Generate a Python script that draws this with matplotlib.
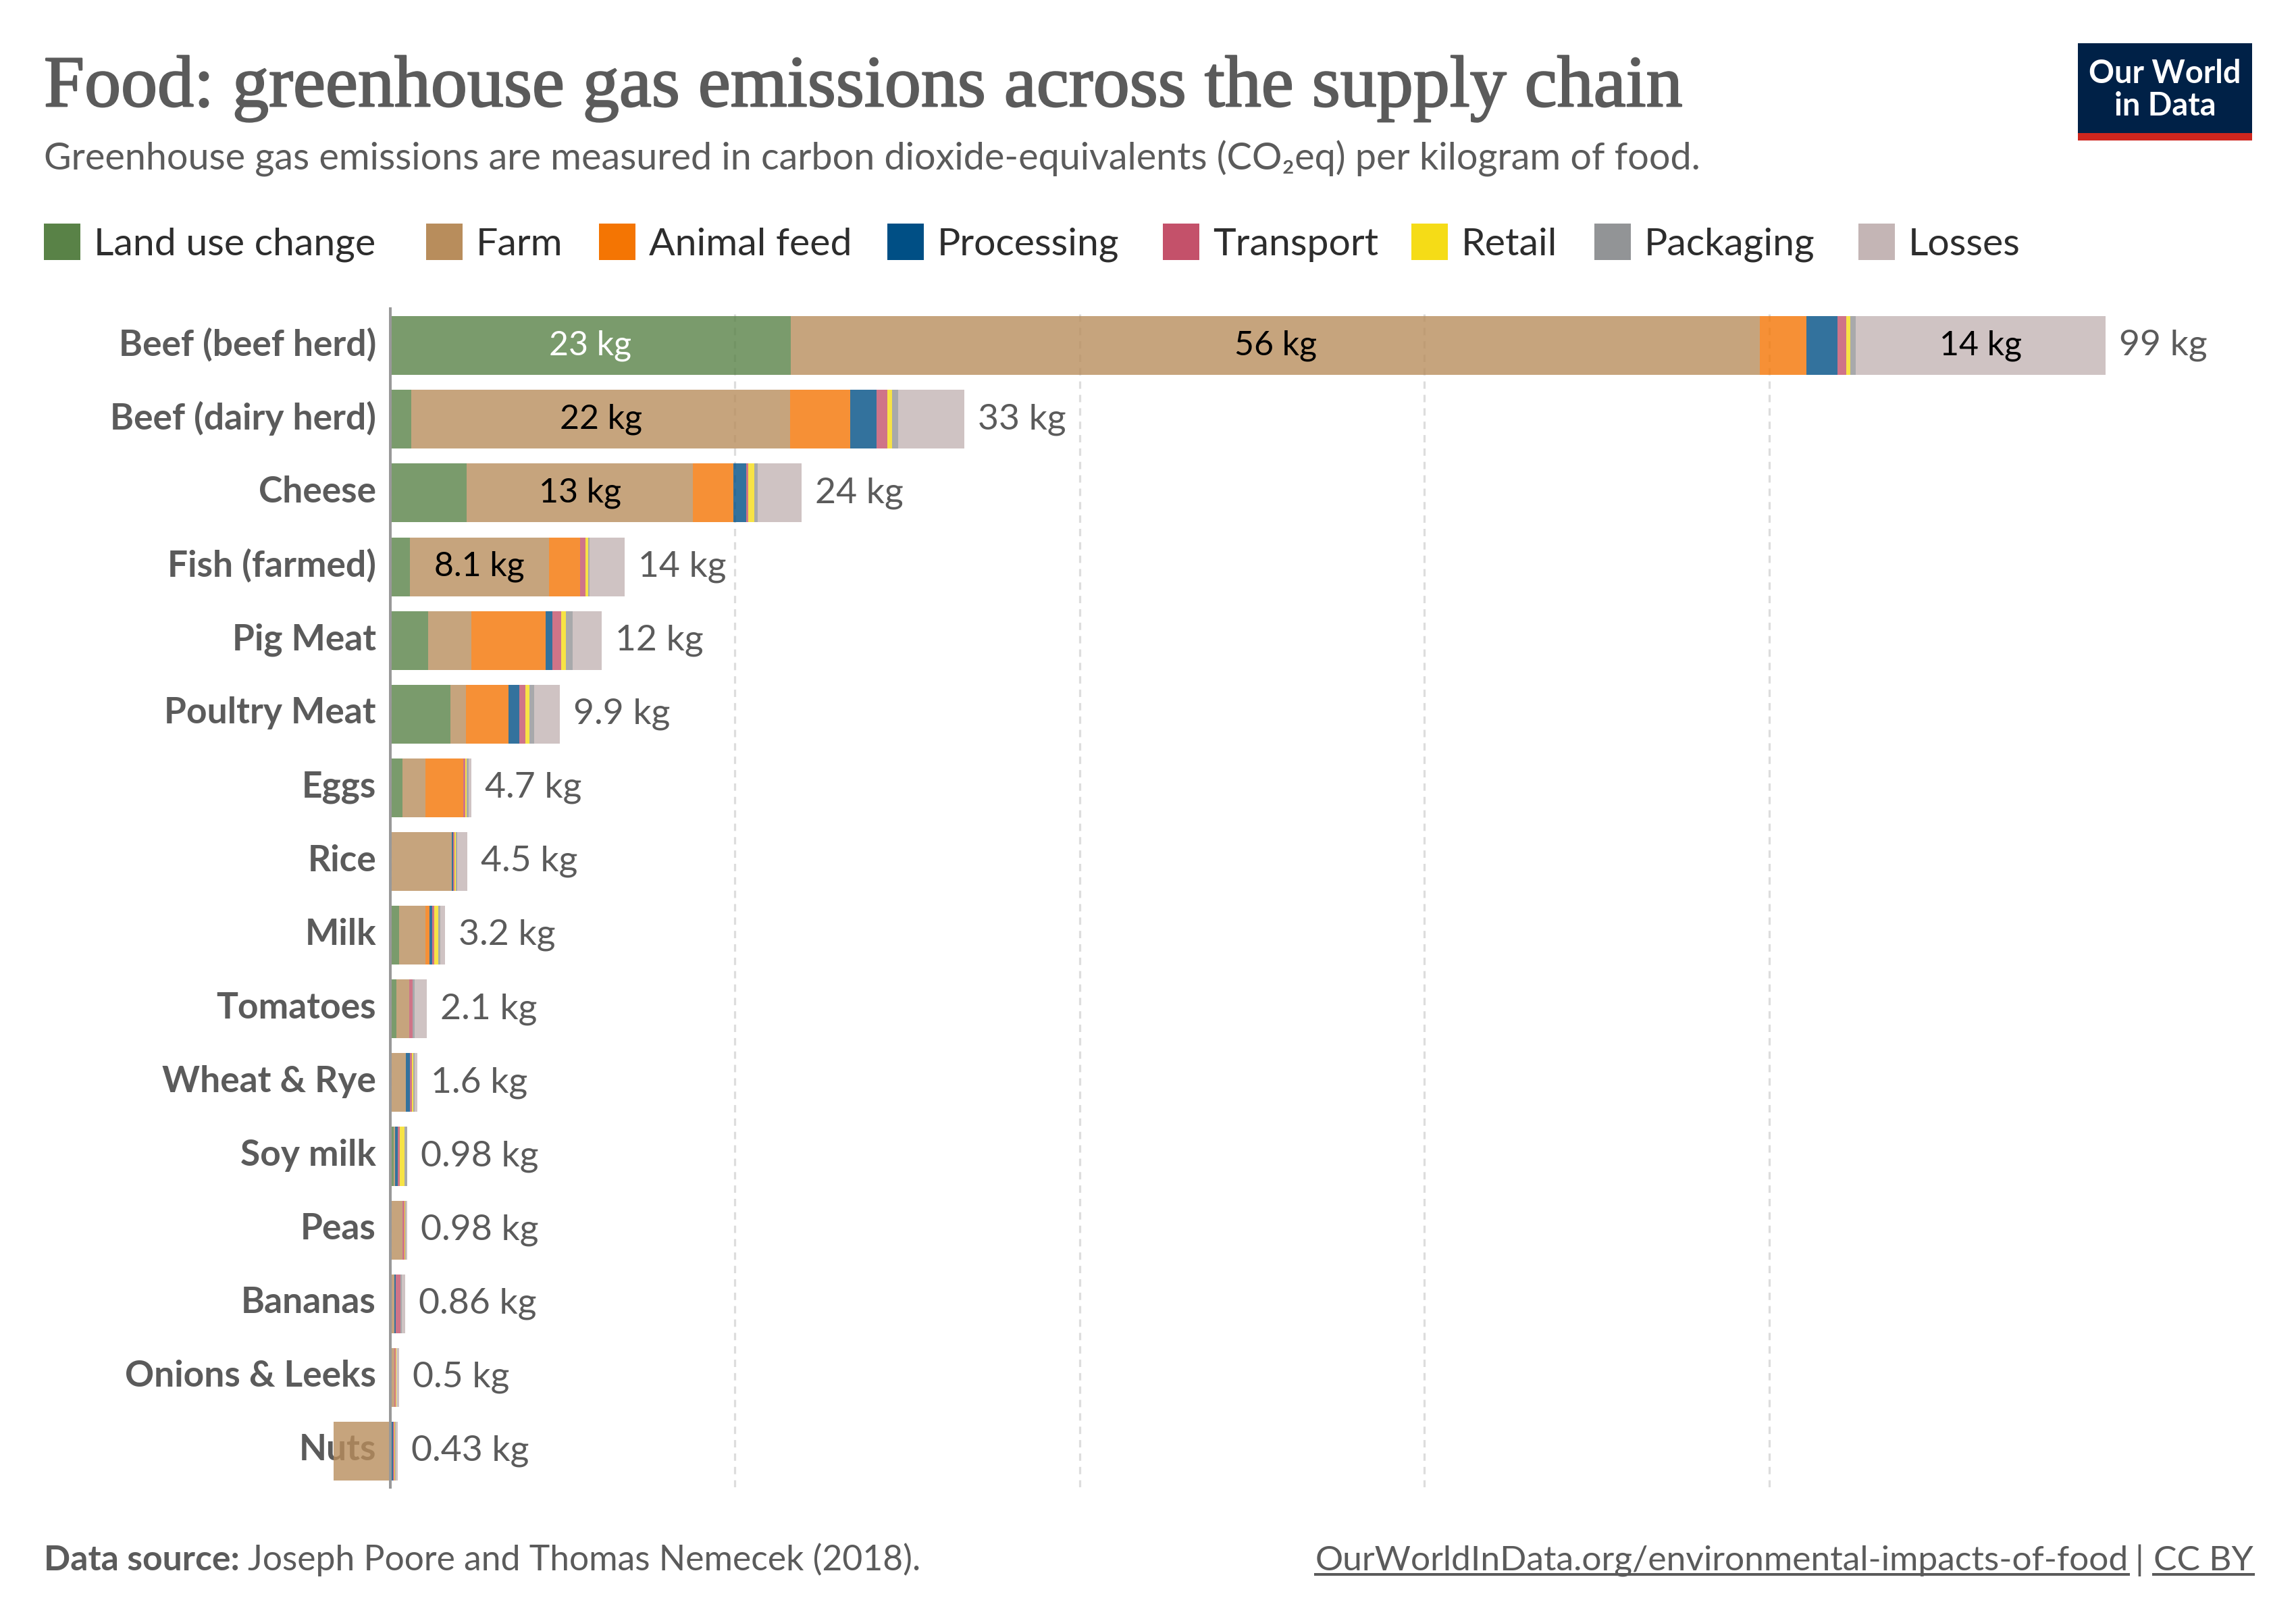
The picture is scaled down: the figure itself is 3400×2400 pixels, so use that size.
import matplotlib
matplotlib.use("Agg")
import matplotlib.pyplot as plt
import matplotlib.patheffects as pe
from matplotlib.patches import Rectangle
from matplotlib.lines import Line2D
from matplotlib.transforms import ScaledTranslation
import numpy as np

foods = ["Beef (beef herd)", "Beef (dairy herd)", "Cheese", "Fish (farmed)", "Pig Meat", "Poultry Meat",
         "Eggs", "Rice", "Milk", "Tomatoes", "Wheat & Rye", "Soy milk", "Peas", "Bananas", "Onions & Leeks", "Nuts"]
total_labels = ["99 kg", "33 kg", "24 kg", "14 kg", "12 kg", "9.9 kg", "4.7 kg", "4.5 kg", "3.2 kg", "2.1 kg",
                "1.6 kg", "0.98 kg", "0.98 kg", "0.86 kg", "0.5 kg", "0.43 kg"]
land_use  = [23.24, 1.22, 4.42, 1.14, 2.20, 3.47, 0.72, 0, 0.52, 0.36, 0, 0.18, 0, 0, 0, 0]
farm      = [56.23, 21.98, 13.15, 8.08, 2.50, 0.93, 1.33, 3.55, 1.52, 0.72, 0.92, 0.10, 0.72, 0.24, 0.22, -3.30]
feed      = [2.70, 3.50, 2.33, 1.80, 4.30, 2.45, 2.17, 0, 0.24, 0, 0, 0, 0, 0, 0, 0]
process   = [1.81, 1.53, 0.75, 0, 0.42, 0.63, 0.02, 0.08, 0.16, 0.01, 0.20, 0.16, 0, 0.06, 0, 0.15]
transport = [0.50, 0.60, 0.12, 0.30, 0.48, 0.37, 0.10, 0.08, 0.09, 0.20, 0.13, 0.10, 0.10, 0.30, 0.09, 0.07]
retail    = [0.24, 0.27, 0.35, 0.15, 0.27, 0.22, 0.07, 0.09, 0.27, 0, 0.07, 0.29, 0.06, 0, 0.04, 0.05]
packaging = [0.33, 0.35, 0.18, 0.10, 0.42, 0.28, 0.12, 0.07, 0.09, 0.14, 0.08, 0.14, 0.03, 0.07, 0.02, 0.05]
losses    = [14.47, 3.85, 2.58, 2.02, 1.68, 1.50, 0.16, 0.60, 0.27, 0.68, 0.18, 0, 0.06, 0.20, 0.13, 0.11]
series_names = ["Land use change", "Farm", "Animal feed", "Processing", "Transport", "Retail", "Packaging", "Losses"]
series_values = [land_use, farm, feed, process, transport, retail, packaging, losses]
series_colors = ["#598247", "#b88d5c", "#f47503", "#004f85", "#c4516a", "#f5dc17", "#929496", "#c4b5b5"]
grid_ticks = [0, 20, 40, 60, 80]

W, H = 3400, 2400
PT = 0.36
GREY = "#5b5b5b"
FONT = ["Lato", "DejaVu Sans"]
plt.rcParams["font.family"] = FONT

fig = plt.figure(figsize=(17, 12), dpi=200, facecolor="white")

def fx(x): return x / W
def fy(y): return 1 - y / H
def ptext(x, y, s, px, **kw):
    kw.setdefault("va", "center")
    return fig.text(fx(x), fy(y), s, fontsize=px * PT, **kw)

L, R, T, B = 480, 3340, 457, 2202
ax = fig.add_axes([fx(L), fy(B), (R - L) / W, (B - T) / H])
ax.patch.set_alpha(0)
ppk = 25.52
zero = 578
pitch = 109.12
ax.set_xlim((L - zero) / ppk, (R - zero) / ppk)
ax.set_ylim((B - 511.7) / pitch, (T - 511.7) / pitch)
ax.set_axisbelow(True)

for s in ["top", "right", "bottom"]:
    ax.spines[s].set_visible(False)
ax.spines["left"].set_position(("data", 0))
ax.spines["left"].set_color("#999999")
ax.spines["left"].set_linewidth(4 * PT)
ax.spines["left"].set_zorder(5)

y = np.arange(len(foods))
pos = np.zeros(len(foods))
neg = np.zeros(len(foods))
for k, (name, vals, col) in enumerate(zip(series_names, series_values, series_colors)):
    v = np.array(vals, dtype=float)
    left = np.where(v >= 0, pos, neg)
    ax.barh(y, v, left=left, height=0.798, color=col, alpha=0.8, linewidth=0, zorder=1)
    for i, val in enumerate(v):
        if val >= 8:
            ax.text(left[i] + val / 2, i, f"{val:.2g} kg", ha="center", va="center",
                    fontsize=50 * PT, color="white" if k == 0 else "black", zorder=3)
    pos += np.where(v >= 0, v, 0)
    neg += np.where(v < 0, v, 0)

for i, lab in enumerate(total_labels):
    ax.text(pos[i] + 0.78, i, lab, ha="left", va="center", fontsize=53.5 * PT, color=GREY, zorder=3)

ax.set_xticks(grid_ticks)
ax.tick_params(axis="x", length=0, labelbottom=False)
ax.set_yticks(y, foods)
ax.tick_params(axis="y", length=0, pad=21 * PT)
lift = ScaledTranslation(0, 6 / 200, fig.dpi_scale_trans)
for t in ax.get_yticklabels():
    t.set_fontsize(53.4 * PT)
    t.set_fontweight("bold")
    t.set_color(GREY)
    t.set_transform(t.get_transform() + lift)
ax.grid(axis="x", color="#dddddd", linewidth=3.2 * PT, linestyle=(0, (3.4, 2.8)))
ax.grid(axis="y", visible=False)

# headings
ptext(65, 131, "Food: greenhouse gas emissions across the supply chain", 108,
      family=["Liberation Serif"], color=GREY, ha="left",
      path_effects=[pe.withStroke(linewidth=2.2 * PT, foreground=GREY)])
ptext(65, 235, "Greenhouse gas emissions are measured in carbon dioxide-equivalents (CO\u2082eq) per kilogram of food.",
      55.8, color=GREY, ha="left")

# legend
fig.canvas.draw()
rend = fig.canvas.get_renderer()
for lx, name, col in zip([65, 631, 887, 1314, 1722, 2090, 2361, 2752], series_names, series_colors):
    fig.add_artist(Rectangle((fx(lx), fy(385)), 54 / W, 54 / H, transform=fig.transFigure, color=col, lw=0))
    ptext(lx + 74, 378, name, 57.2, color="#2d2d2d", ha="left", va="baseline")

# logo
fig.add_artist(Rectangle((fx(3077), fy(208)), 258 / W, 144 / H, transform=fig.transFigure, color="#002147", lw=0))
fig.add_artist(Rectangle((fx(3077), fy(208)), 258 / W, 11 / H, transform=fig.transFigure, color="#ce261e", lw=0))
ptext(3206, 109, "Our World", 47, color="white", ha="center", weight="bold")
ptext(3206, 157, "in Data", 47, color="white", ha="center", weight="bold")

# footer
FY = 2325
a = ptext(65, FY, "Data source:", 51.6, color=GREY, ha="left", weight="bold", va="baseline")
ax0 = a.get_window_extent(rend).x1
ptext(ax0 + 12, FY, "Joseph Poore and Thomas Nemecek (2018).", 51.6, color=GREY, ha="left", va="baseline")
c = ptext(3337, FY, "CC BY", 51.5, color=GREY, ha="right", va="baseline")
ce = c.get_window_extent(rend)
m = ptext(ce.x0 - 21, FY, "|", 51.5, color=GREY, ha="center", va="baseline")
u = ptext(ce.x0 - 37, FY, "OurWorldInData.org/environmental-impacts-of-food", 51.5, color=GREY, ha="right", va="baseline")
ue = u.get_window_extent(rend)
for e in (ce, ue):
    fig.add_artist(Line2D([e.x0 / W, e.x1 / W], [fy(2331)] * 2, transform=fig.transFigure, color=GREY, lw=4 * PT))

fig.savefig("out.png", dpi=200, facecolor="white")
